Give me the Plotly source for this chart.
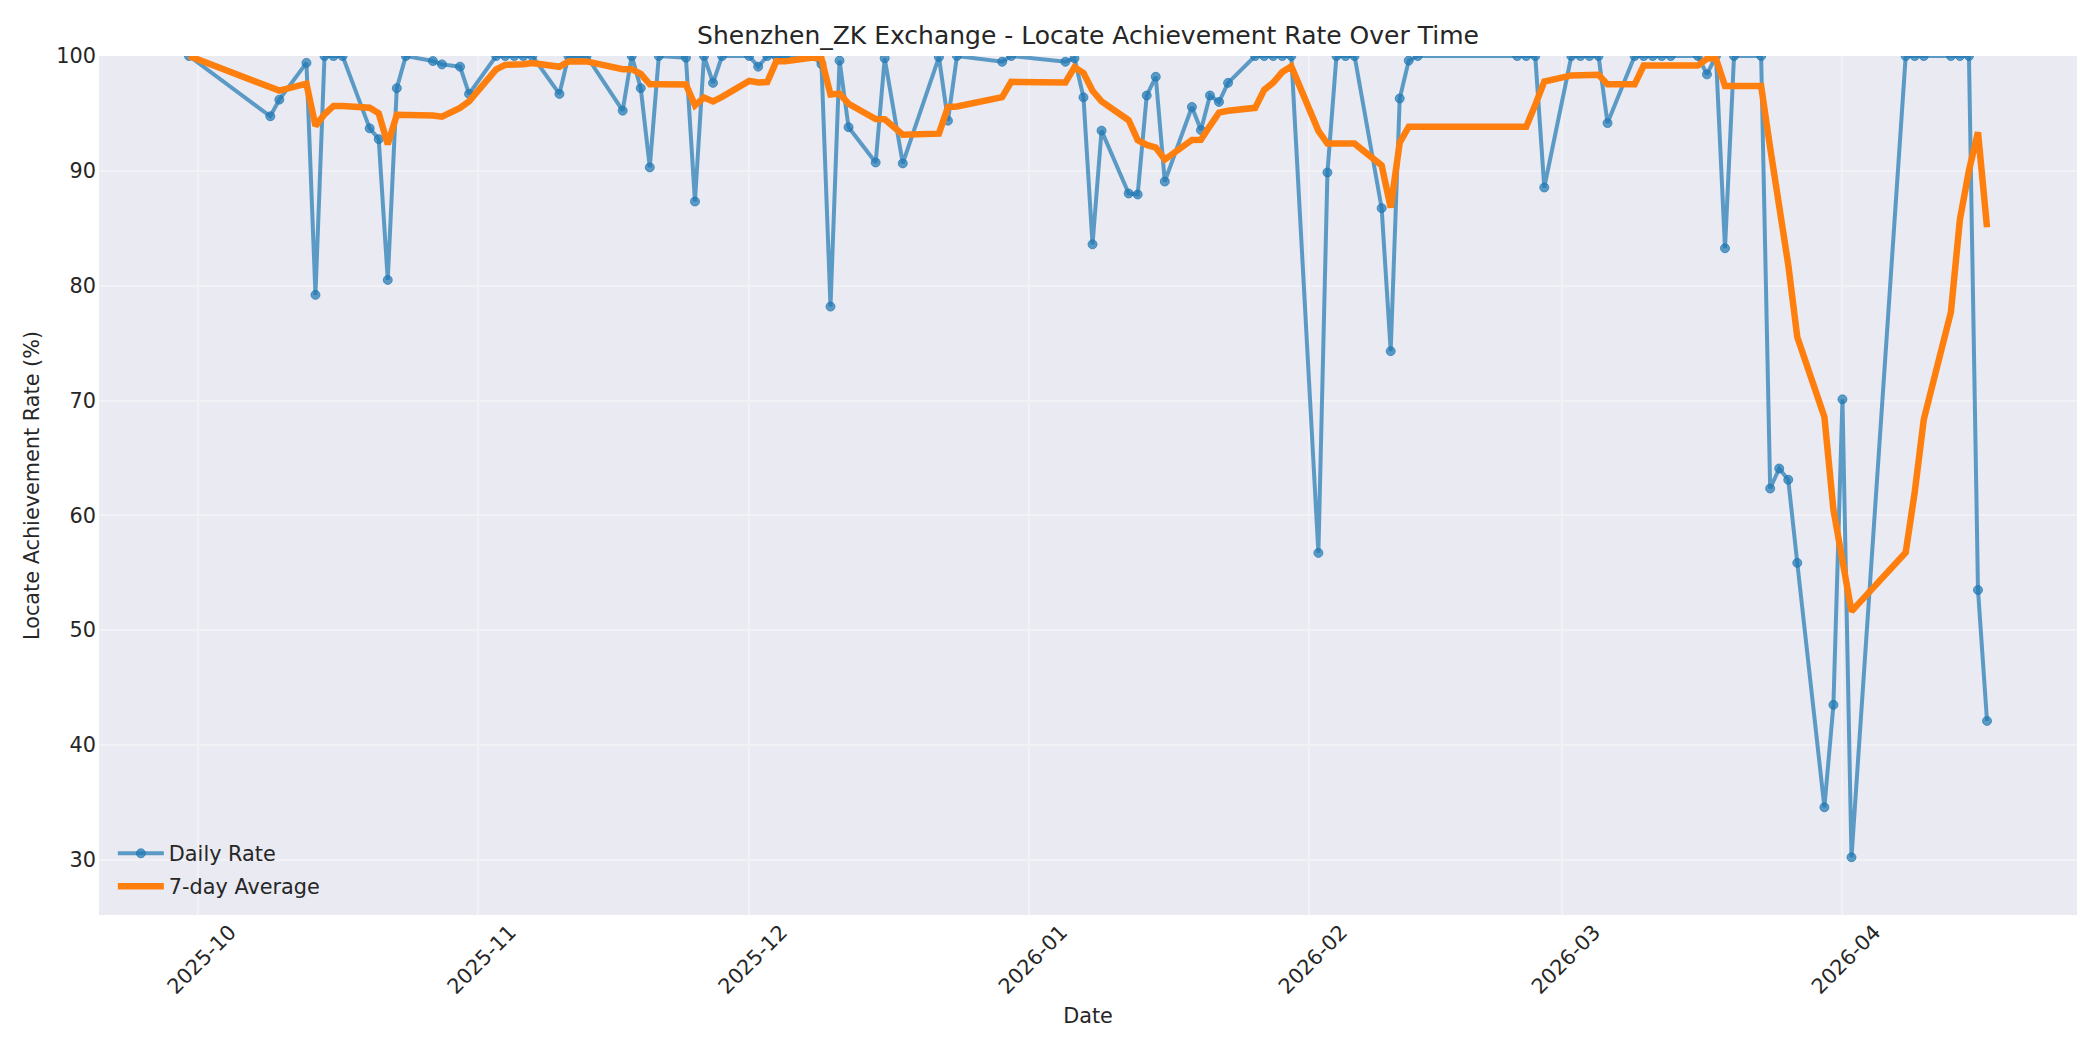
import pandas as pd
import plotly.graph_objects as go

# daily locate achievement rate (%)
dates = [
    "2025-09-30", "2025-10-09", "2025-10-10", "2025-10-13", "2025-10-14", "2025-10-15",
    "2025-10-16", "2025-10-17", "2025-10-20", "2025-10-21", "2025-10-22", "2025-10-23",
    "2025-10-24", "2025-10-27", "2025-10-28", "2025-10-30", "2025-10-31", "2025-11-03",
    "2025-11-04", "2025-11-05", "2025-11-06", "2025-11-07", "2025-11-10", "2025-11-11",
    "2025-11-12", "2025-11-13", "2025-11-17", "2025-11-18", "2025-11-19", "2025-11-20",
    "2025-11-21", "2025-11-24", "2025-11-25", "2025-11-26", "2025-11-27", "2025-11-28",
    "2025-12-01", "2025-12-02", "2025-12-03", "2025-12-04", "2025-12-05", "2025-12-08",
    "2025-12-09", "2025-12-10", "2025-12-11", "2025-12-12", "2025-12-15", "2025-12-16",
    "2025-12-18", "2025-12-22", "2025-12-23", "2025-12-24", "2025-12-29", "2025-12-30",
    "2026-01-05", "2026-01-06", "2026-01-07", "2026-01-08", "2026-01-09", "2026-01-12",
    "2026-01-13", "2026-01-14", "2026-01-15", "2026-01-16", "2026-01-19", "2026-01-20",
    "2026-01-21", "2026-01-22", "2026-01-23", "2026-01-26", "2026-01-27", "2026-01-28",
    "2026-01-29", "2026-01-30", "2026-02-02", "2026-02-03", "2026-02-04", "2026-02-05",
    "2026-02-06", "2026-02-09", "2026-02-10", "2026-02-11", "2026-02-12", "2026-02-13",
    "2026-02-24", "2026-02-25", "2026-02-26", "2026-02-27", "2026-03-02", "2026-03-03",
    "2026-03-04", "2026-03-05", "2026-03-06", "2026-03-09", "2026-03-10", "2026-03-11",
    "2026-03-12", "2026-03-13", "2026-03-16", "2026-03-17", "2026-03-18", "2026-03-19",
    "2026-03-20", "2026-03-23", "2026-03-24", "2026-03-25", "2026-03-26", "2026-03-27",
    "2026-03-30", "2026-03-31", "2026-04-01", "2026-04-02", "2026-04-08", "2026-04-09",
    "2026-04-10", "2026-04-13", "2026-04-14", "2026-04-15", "2026-04-16", "2026-04-17",
]

daily_rate = [
    100, 94.75, 96.2, 99.4, 79.2, 100,
    100, 100, 93.7, 92.76, 80.5, 97.2,
    100, 99.56, 99.27, 99.07, 96.7, 100,
    100, 100, 100, 100, 96.7, 100,
    100, 100, 95.24, 100, 97.2, 90.3,
    100, 99.85, 87.33, 100, 97.66, 100,
    100, 99.07, 100, 100, 100, 100,
    99.3, 78.18, 99.6, 93.8, 90.73, 99.8,
    90.65, 99.9, 94.37, 100, 99.5, 100,
    99.5, 99.8, 96.4, 83.6, 93.5, 88.03,
    87.94, 96.56, 98.19, 89.07, 95.56, 93.55,
    96.56, 96.0, 97.66, 100, 100, 100,
    100, 100, 56.73, 89.86, 100, 100,
    100, 86.75, 74.3, 96.3, 99.6, 100,
    100, 100, 100, 88.55, 100, 100,
    100, 100, 94.16, 100, 100, 100,
    100, 100, 100, 98.4, 100, 83.26,
    100, 100, 62.34, 64.08, 63.1, 55.86,
    34.58, 43.5, 70.1, 30.23, 100, 100,
    100, 100, 100, 100, 53.5, 42.1,
]

title_text = "Shenzhen_ZK Exchange - Locate Achievement Rate Over Time"

df = pd.DataFrame({"date": pd.to_datetime(dates), "rate": daily_rate})
# 7-row rolling mean, same as the original chart
df["avg7"] = df["rate"].rolling(7, min_periods=1).mean()

TXT = "#262626"
blue = "rgba(31,119,180,0.7)"
FS = 20.8

fig = go.Figure()

fig.add_trace(go.Scatter(
    x=df["date"], y=df["rate"], mode="lines+markers", name="Daily Rate",
    legendgroup="d",
    line=dict(color=blue, width=4),
    marker=dict(size=9, color=blue, line=dict(color=blue, width=1)),
))

fig.add_trace(go.Scatter(
    x=df["date"], y=df["avg7"], mode="lines", name="7-day Average",
    legendgroup="a",
    line=dict(color="#ff7f0e", width=6.5),
))

# page body has an 8px margin, so the margins are shifted to compensate
fig.update_layout(
    width=2100, height=1050,
    margin=dict(l=91, r=31, t=48, b=143),
    paper_bgcolor="white", plot_bgcolor="#EAEAF2",
    font=dict(family="DejaVu Sans", size=FS, color=TXT),
    title=dict(text=title_text, x=0.5, xref="paper", xanchor="center",
               y=1 - 27 / 1050, yref="container", yanchor="middle",
               font=dict(size=25, color=TXT)),
    legend=dict(x=0.007, y=0.009, xanchor="left", yanchor="bottom",
                bgcolor="rgba(0,0,0,0)", font=dict(size=FS, color=TXT),
                itemwidth=46, tracegroupgap=3),
    showlegend=True,
)

fig.update_xaxes(
    range=["2025-09-20 01:00", "2026-04-26 23:00"],
    tick0="2025-10-01", dtick="M1", tickformat="%Y-%m", tickangle=-45,
    tickfont=dict(size=FS),
    showgrid=True, gridcolor="#F1F1F6", gridwidth=2,
    zeroline=False, showline=False, ticks="",
    ticklabelstandoff=0, ticklabelshift=32,
    title=dict(text="Date", standoff=10, font=dict(size=FS, color=TXT)),
)

fig.update_yaxes(
    range=[25.2, 100], tick0=30, dtick=10,
    tickfont=dict(size=FS),
    showgrid=True, gridcolor="#F1F1F6", gridwidth=2,
    zeroline=False, showline=False, ticks="", ticklabelstandoff=2,
    title=dict(text="Locate Achievement Rate (%)", standoff=11, font=dict(size=FS, color=TXT)),
)

fig.write_html("out.html")
